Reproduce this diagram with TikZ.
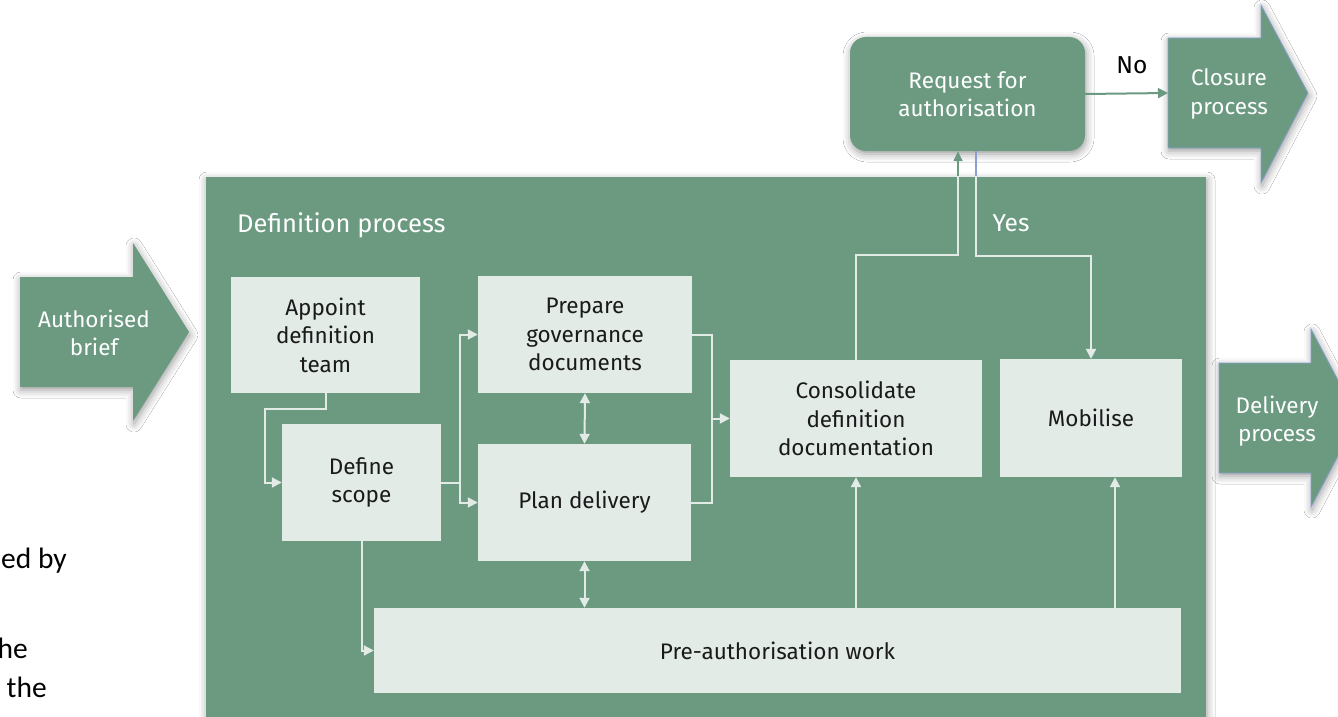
\documentclass[tikz,border=0pt]{standalone}
\usepackage{fontspec}
\setmainfont{Fira Sans}
\newfontfamily\calibri{Carlito}
\usetikzlibrary{calc,arrows.meta,shadows.blur}
\definecolor{pgreen}{HTML}{6B9A81}
\definecolor{plight}{HTML}{E2EBE6}
\definecolor{pblue}{HTML}{8A9FD0}
\definecolor{ptext}{HTML}{1A1A1A}
\begin{document}
\begin{tikzpicture}[x=1pt,y=-1pt,
  font=\fontsize{22.5}{28.5}\selectfont,
  lightbox/.style={fill=plight,text=ptext,align=center,inner sep=0pt},
  conn/.style={draw=plight,line width=2pt,-{Triangle[length=10pt,width=10pt]}},
  twoway/.style={draw=plight,line width=2pt,{Triangle[length=10pt,width=10pt]}-{Triangle[length=10pt,width=10pt]}},
  plainline/.style={draw=plight,line width=2pt},
  shadowed/.style={blur shadow={shadow xshift=1pt,shadow yshift=-3pt,shadow blur radius=8pt,shadow opacity=40}},
  whitetext/.style={text=white,align=center,inner sep=0pt},
  bigarrow/.style={fill=pgreen,shadowed},
  fragtext/.style={font=\calibri\fontsize{29.5}{39}\selectfont,text=black,anchor=base east,inner sep=0pt},
  labeltext/.style={inner sep=0pt,font=\fontsize{24.5}{30}\selectfont},
]
\useasboundingbox (0,0) rectangle (1338,717);
\clip (0,0) rectangle (1338,717);
\fill[white] (0,0) rectangle (1338,717);

% fragments of surrounding text
\node[fragtext] (frag1) at (67,568) {ed by};
\node[fragtext] (frag2) at (28,658) {he};
\node[fragtext] (frag3) at (47,697) {the};

% input arrow
\path[bigarrow] (20,277) -- (133,277) -- (133,243) -- (189,332) -- (133,421) -- (133,387) -- (20,387) -- cycle;
\node[whitetext] (brief) at (94,333) {Authorised\\brief};

% definition process container
\node[fill=pgreen,shadowed,minimum width=1000pt,minimum height=560pt,inner sep=0pt] (defbox) at (706,457) {};
\node[labeltext,text=white,anchor=west,font=\fontsize{25.5}{30}\selectfont] (deflabel) at (237,225) {Definition process};

% output arrows
\path[bigarrow,draw=pblue,line width=0.8pt] (1168,38) -- (1261,38) -- (1261,5) -- (1308,93) -- (1261,183) -- (1261,148) -- (1168,148) -- cycle;
\node[whitetext] (closure) at (1229,94) {Closure\\process};
\coordinate (closurein) at (1168,93);
\path[bigarrow,draw=pblue,line width=0.8pt] (1219,363) -- (1311,363) -- (1311,329) -- (1358,418) -- (1311,507) -- (1311,473) -- (1219,473) -- cycle;
\node[whitetext] (delivery) at (1277,421) {Delivery\\process};

% request
\node[fill=pgreen,rounded corners=16pt,shadowed,minimum width=235pt,minimum height=114pt,whitetext] (request) at (967.5,94) {Request for\\authorisation};

% inner boxes
\node[lightbox,minimum width=189pt,minimum height=116pt] (appoint) at (325.5,335) {Appoint\\definition\\team};
\node[lightbox,minimum width=159pt,minimum height=117pt] (scope) at (361.5,482.5) {Define\\scope};
\node[lightbox,minimum width=214pt,minimum height=117pt] (prepare) at (585,334.5) {Prepare\\governance\\documents};
\node[lightbox,minimum width=213pt,minimum height=117pt] (plan) at (584.5,502.5) {Plan delivery};
\node[lightbox,minimum width=252pt,minimum height=117pt] (consolidate) at (856,418.5) {Consolidate\\definition\\documentation};
\node[lightbox,minimum width=182pt,minimum height=118pt] (mobilise) at (1091,418) {Mobilise};
\node[lightbox,minimum width=807pt,minimum height=85pt] (preauth) at (777.5,650.5) {Pre-authorisation work};

% connectors inside
\draw[conn] (appoint.south) -- ++(0,16) -| ($(scope.west)+(-17,0)$) -- (scope.west);
\coordinate (split) at ($(scope.east)+(19,0)$);
\draw[plainline] (scope.east) -- (split);
\draw[conn] (split) |- (prepare.west);
\draw[conn] (split) |- (plan.west);
\draw[twoway] (prepare.south) -- (plan.north);
\coordinate (merge) at ($(consolidate.west)+(-18,0)$);
\draw[plainline] (prepare.east) -| (merge) |- (plan.east);
\draw[conn] (merge) -- (consolidate.west);
\draw[twoway] (plan.south) -- (plan.south |- preauth.north);
\draw[conn] (scope.south) |- (preauth.west);
\draw[conn] (consolidate.south |- preauth.north) -- (consolidate.south);
\coordinate (mobin) at ($(mobilise.south)+(24,0)$);
\draw[conn] (mobin |- preauth.north) -- (mobin);

% connectors to and from request
\coordinate (reqin) at ($(request.south)+(-9.5,0)$);
\coordinate (reqout) at ($(request.south)+(8.5,0)$);
\draw[draw=pgreen,line width=1.5pt,-{Triangle[length=10pt,width=9pt]}] (consolidate.north) -- ++(0,-105) -| (reqin);
\draw[draw=pblue,line width=2pt,-{Triangle[length=10pt,width=10pt]}] (reqout) -- ++(0,105) -| (mobilise.north);
\begin{scope}
\clip (defbox.north west) rectangle (defbox.south east);
\draw[draw=plight,line width=1.5pt] (consolidate.north) -- ++(0,-105) -| (reqin);
\draw[conn] (reqout) -- ++(0,105) -| (mobilise.north);
\end{scope}
\node[labeltext,text=white] (yes) at (1011,223) {Yes};

\draw[draw=pgreen,line width=2pt,-{Triangle[length=10pt,width=10pt]}] (request.east) -- (closurein);
\node[labeltext,text=black] (no) at (1132,65) {No};
\end{tikzpicture}
\end{document}
